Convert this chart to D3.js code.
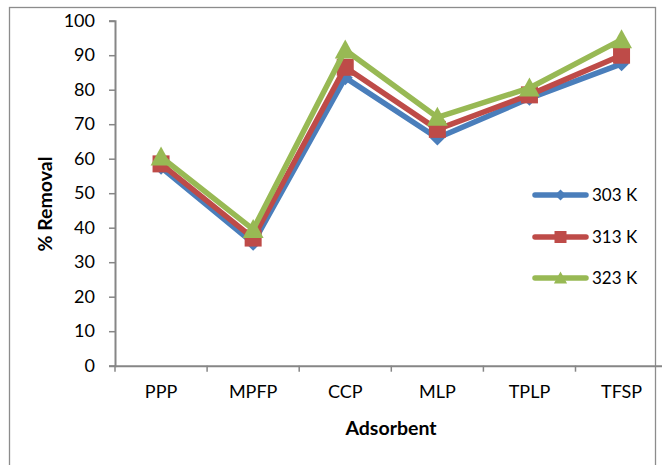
<!DOCTYPE html>
<html>
<head>
<meta charset="utf-8">
<script src="https://cdn.jsdelivr.net/npm/d3@7"></script>
<style>
  html, body { margin: 0; padding: 0; background: #fff; }
  svg { display: block; }
  text { font-family: Lato, "Open Sans", sans-serif; fill: #000; }
</style>
</head>
<body>
<svg id="chart" width="662" height="465"></svg>
<script>
// Adsorbent types along the category axis
const categories = ["PPP", "MPFP", "CCP", "MLP", "TPLP", "TFSP"];
// % removal at each temperature
const series303 = [57.5, 35.5, 83.5, 66, 77.5, 87.5];
const series313 = [58.5, 37, 86.5, 68.5, 78.5, 90];
const series323 = [60.5, 39.5, 91.5, 72, 80.5, 94.5];
const seriesNames = ["303 K", "313 K", "323 K"];
const yTicks = [0, 10, 20, 30, 40, 50, 60, 70, 80, 90, 100];

const svg = d3.select("#chart");
const plotLeft = 115, plotRight = 667.6, plotTop = 20.7, plotBottom = 365.7;
const axisColor = "#868686";

// outer chart frame
svg.append("rect")
  .attr("x", 9.5).attr("y", 7.5)
  .attr("width", 646).attr("height", 470)
  .attr("fill", "none").attr("stroke", "#8c8c8c").attr("stroke-width", 1.3);

const x = d3.scaleBand().domain(categories).range([plotLeft, plotRight]).padding(0);
const y = d3.scaleLinear().domain([0, 100]).range([plotBottom, plotTop]);
const cx = d => x(d) + x.bandwidth() / 2;

// y axis
const yAxis = svg.append("g")
  .attr("transform", `translate(${plotLeft},0)`)
  .call(d3.axisLeft(y).tickValues(yTicks).tickSize(6).tickPadding(14));
yAxis.select(".domain").attr("stroke", axisColor).attr("stroke-width", 2);
yAxis.selectAll(".tick line").attr("stroke", axisColor).attr("stroke-width", 1.5);
yAxis.selectAll(".tick text").style("font-size", "18px").attr("fill", "#000");

// x axis: labels centred in each band, ticks on band boundaries
const xAxis = svg.append("g")
  .attr("transform", `translate(0,${plotBottom})`)
  .call(d3.axisBottom(x).tickSize(0).tickPadding(20));
xAxis.select(".domain").attr("stroke", axisColor).attr("stroke-width", 2);
xAxis.selectAll(".tick text").style("font-size", "18px").attr("fill", "#000");
xAxis.selectAll("line.bound")
  .data(categories)
  .join("line")
  .attr("class", "bound")
  .attr("x1", d => x(d)).attr("x2", d => x(d))
  .attr("y1", 0).attr("y2", 6)
  .attr("stroke", axisColor).attr("stroke-width", 1.5);

// axis titles
svg.append("text")
  .attr("x", 391).attr("y", 435)
  .attr("text-anchor", "middle")
  .style("font-size", "19.5px").style("font-weight", "bold")
  .text("Adsorbent");
svg.append("text")
  .attr("transform", "translate(52,204) rotate(-90)")
  .attr("text-anchor", "middle")
  .style("font-size", "19.5px").style("font-weight", "bold")
  .text("% Removal");

const colors = ["#4a7ebb", "#be4b48", "#98b954"];
const allSeries = [series303, series313, series323];

function marker(g, kind, px, py, s, color) {
  if (kind === 0) {
    g.append("path")
      .attr("d", `M${px},${py - s / 2}L${px + s / 2},${py}L${px},${py + s / 2}L${px - s / 2},${py}Z`)
      .attr("fill", color);
  } else if (kind === 1) {
    g.append("rect")
      .attr("x", px - s / 2).attr("y", py - s / 2)
      .attr("width", s).attr("height", s)
      .attr("fill", color);
  } else {
    g.append("path")
      .attr("d", `M${px},${py - s * 0.55}L${px + s * 0.55},${py + s * 0.45}L${px - s * 0.55},${py + s * 0.45}Z`)
      .attr("fill", color);
  }
}

const line = d3.line().x((d, i) => cx(categories[i])).y(d => y(d));
const markerSizes = [15, 17, 19];

allSeries.forEach((vals, si) => {
  const g = svg.append("g");
  g.append("path")
    .datum(vals)
    .attr("d", line)
    .attr("fill", "none")
    .attr("stroke", colors[si])
    .attr("stroke-width", 5.5)
    .attr("stroke-linejoin", "round")
    .attr("stroke-linecap", "round");
  vals.forEach((v, i) => marker(g, si, cx(categories[i]), y(v), markerSizes[si], colors[si]));
});

// legend
const legendY = [195, 237, 278];
const legendMarker = [11, 12, 12];
seriesNames.forEach((name, si) => {
  const g = svg.append("g");
  g.append("line")
    .attr("x1", 535).attr("x2", 586)
    .attr("y1", legendY[si]).attr("y2", legendY[si])
    .attr("stroke", colors[si]).attr("stroke-width", 5.5)
    .attr("stroke-linecap", "round");
  marker(g, si, 560.5, legendY[si], legendMarker[si], colors[si]);
  g.append("text")
    .attr("x", 592).attr("y", legendY[si] + 6)
    .style("font-size", "17px")
    .text(name);
});
</script>
</body>
</html>
